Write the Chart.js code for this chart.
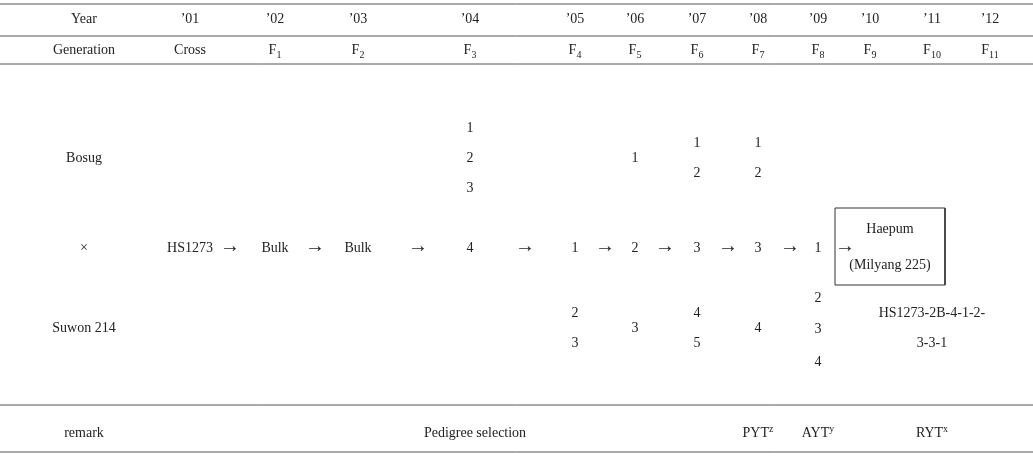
<!DOCTYPE html>
<html><head><meta charset="utf-8">
<script src="https://cdn.jsdelivr.net/npm/chart.js@4"></script>
<style>html,body{margin:0;background:#fff}#wrap{width:1033px;height:457px}</style>
</head><body><div id="wrap"><canvas id="c"></canvas></div>
<script>
// column centres (x) and header texts
const colX = [84, 190, 275, 358, 470, 575, 635, 697, 758, 818, 870, 932, 990];
const years = ['Year', '\u201901', '\u201902', '\u201903', '\u201904', '\u201905', '\u201906', '\u201907', '\u201908', '\u201909', '\u201910', '\u201911', '\u201912'];
const gens = ['Generation', 'Cross', 'F|1', 'F|2', 'F|3', 'F|4', 'F|5', 'F|6', 'F|7', 'F|8', 'F|9', 'F|10', 'F|11'];
const arrowX = [230, 315, 418, 525, 605, 665, 728, 790, 845];
const ruleY = [4, 36, 64, 405, 452];
// body cells: [x, y, text]
const cells = [
  [84, 158, 'Bosug'], [84, 248, '\u00d7'], [84, 328, 'Suwon 214'],
  [190, 248, 'HS1273'], [275, 248, 'Bulk'], [358, 248, 'Bulk'],
  [470, 128, '1'], [470, 158, '2'], [470, 188, '3'], [470, 248, '4'],
  [575, 248, '1'], [575, 313, '2'], [575, 343, '3'],
  [635, 158, '1'], [635, 248, '2'], [635, 328, '3'],
  [697, 143, '1'], [697, 173, '2'], [697, 248, '3'], [697, 313, '4'], [697, 343, '5'],
  [758, 143, '1'], [758, 173, '2'], [758, 248, '3'], [758, 328, '4'],
  [818, 248, '1'], [818, 298, '2'], [818, 329, '3'], [818, 362, '4'],
  [890, 229, 'Haepum'], [890, 265, '(Milyang 225)'],
  [932, 313, 'HS1273-2B-4-1-2-'], [932, 343, '3-3-1'],
  [84, 433, 'remark'], [475, 433, 'Pedigree selection'],
  [758, 433, 'PYT^z'], [818, 433, 'AYT^y'], [932, 433, 'RYT^x']
];
const boxPts = [[835, 208], [945, 208], [945, 285], [835, 285], [835, 208]];

const textPts = [];
years.forEach((t, i) => textPts.push({ x: colX[i], y: 19, t }));
gens.forEach((t, i) => textPts.push({ x: colX[i], y: 50, t }));
arrowX.forEach(x => textPts.push({ x, y: 247, t: '\u2192', big: true }));
cells.forEach(c => textPts.push({ x: c[0], y: c[1], t: c[2] }));

const FONT = '"Liberation Serif", "DejaVu Serif", serif';
const textPlugin = {
  id: 'txt',
  afterDatasetsDraw(chart) {
    const ctx = chart.ctx, xs = chart.scales.x, ys = chart.scales.y;
    ctx.save();
    ctx.fillStyle = '#222';
    ctx.textBaseline = 'middle';
    chart.data.datasets[0].data.forEach(p => {
      const px = xs.getPixelForValue(p.x), py = ys.getPixelForValue(p.y);
      let main = p.t, sub = null, sup = null;
      if (main.includes('|')) [main, sub] = main.split('|');
      else if (main.includes('^')) [main, sup] = main.split('^');
      const mainFont = (p.big ? '20px ' : '14px ') + FONT;
      ctx.font = mainFont;
      const w1 = ctx.measureText(main).width;
      ctx.font = '10px ' + FONT;
      const w2 = sub || sup ? ctx.measureText(sub || sup).width : 0;
      let x0 = px - (w1 + w2) / 2;
      ctx.textAlign = 'left';
      ctx.font = mainFont;
      ctx.fillText(main, x0, py);
      ctx.font = '10px ' + FONT;
      if (sub) ctx.fillText(sub, x0 + w1, py + 5);
      if (sup) ctx.fillText(sup, x0 + w1, py - 4);
    });
    ctx.restore();
  }
};

const datasets = [{ data: textPts, pointRadius: 0, showLine: false }];
ruleY.forEach(y => datasets.push({ data: [{ x: 0, y }, { x: 1033, y }], showLine: true, pointRadius: 0, borderColor: '#555', borderWidth: 1 }));
datasets.push({ data: boxPts.map(p => ({ x: p[0], y: p[1] })), showLine: true, pointRadius: 0, borderColor: '#333', borderWidth: 1 });

new Chart(document.getElementById('c'), {
  type: 'scatter',
  data: { datasets },
  options: {
    responsive: true, maintainAspectRatio: false, animation: false,
    layout: { padding: 0 },
    scales: {
      x: { type: 'linear', min: 0, max: 1033, display: false },
      y: { type: 'linear', min: 0, max: 457, reverse: true, display: false }
    },
    plugins: { legend: { display: false }, tooltip: { enabled: false } }
  },
  plugins: [textPlugin]
});
</script></body></html>
